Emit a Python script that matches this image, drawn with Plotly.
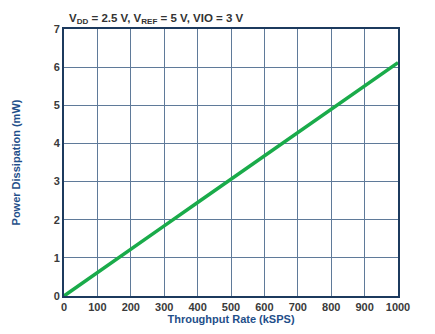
import plotly.graph_objects as go

throughput_ksps = [0, 100, 200, 300, 400, 500, 600, 700, 800, 900, 1000]
power_mw = [0.0, 0.62, 1.23, 1.84, 2.45, 3.06, 3.67, 4.28, 4.89, 5.50, 6.12]

x_ticks = [0, 100, 200, 300, 400, 500, 600, 700, 800, 900, 1000]
y_ticks = [0, 1, 2, 3, 4, 5, 6, 7]

title_text = "<b>V<sub>DD</sub> = 2.5 V, V<sub>REF</sub> = 5 V, VIO = 3 V</b>"
x_title = "<b>Throughput Rate (kSPS)</b>"
y_title = "<b>Power Dissipation (mW)</b>"

frame_color = "#1c3a5e"
grid_color = "#5f7a99"
title_color = "#1f4f8a"
tick_color = "#3a3a3a"
font_family = "Liberation Sans, Arial, sans-serif"

fig = go.Figure()
fig.add_trace(go.Scatter(
    x=throughput_ksps, y=power_mw, mode="lines",
    line=dict(color="#1aab4a", width=3.5),
    showlegend=False, hoverinfo="skip"))

axis_common = dict(
    showline=True, linecolor=frame_color, linewidth=2, mirror=True,
    showgrid=True, gridcolor=grid_color, gridwidth=1,
    zeroline=False, ticks="",
    tickfont=dict(family=font_family, size=11, color=tick_color),
)

fig.update_layout(
    width=435, height=334,
    margin=dict(l=64, r=37, t=29, b=38, pad=0),
    paper_bgcolor="white", plot_bgcolor="white",
    xaxis=dict(range=[0, 1000], tickvals=x_ticks,
               ticktext=[f"<b>{v}</b>" for v in x_ticks],
               title=dict(text=x_title, standoff=2,
                          font=dict(family=font_family, size=11, color=title_color)),
               **axis_common),
    yaxis=dict(range=[0, 7], tickvals=y_ticks,
               ticktext=[f"<b>{v}</b>" for v in y_ticks],
               title=dict(text=y_title, standoff=31,
                          font=dict(family=font_family, size=11, color=title_color)),
               **axis_common),
    annotations=[dict(
        text=title_text, xref="paper", yref="paper", x=0.01, y=1.0,
        xanchor="left", yanchor="bottom", yshift=1, showarrow=False,
        font=dict(family=font_family, size=11.5, color="#333333"))],
)

fig.write_html("out.html")
